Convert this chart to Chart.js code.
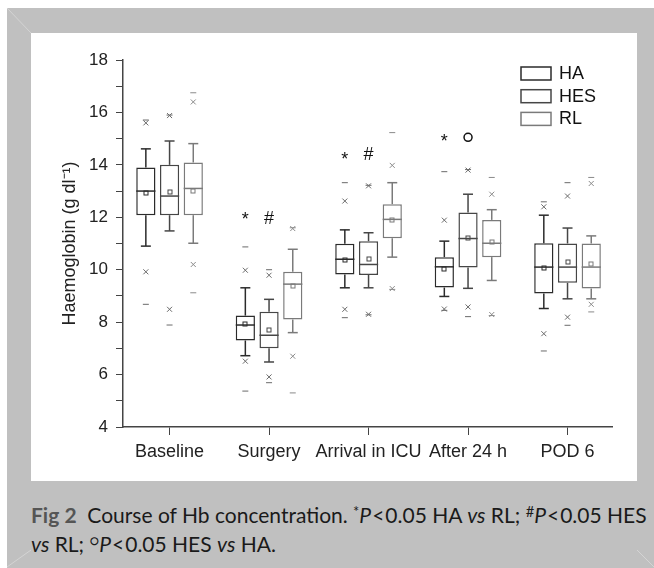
<!DOCTYPE html>
<html>
<head>
<meta charset="utf-8">
<script src="https://cdn.jsdelivr.net/npm/chart.js@4.4.0/dist/chart.umd.min.js"></script>
<style>
  body { margin: 0; width: 654px; height: 568px; position: relative; background: #fff; overflow: hidden; }
  #frame { position: absolute; left: 7px; top: 8px; width: 647px; height: 560px; background: #c0c0c0; }
  #bevel { position: absolute; left: 0; top: 0; }
  #panel { position: absolute; left: 31px; top: 33px; width: 606px; height: 448px; background: #fff; }
  #caption { position: absolute; left: 31px; top: 500px; font-family: Lato, "Open Sans", sans-serif; font-size: 21px;
             line-height: 29px; color: #1a1a1a; white-space: nowrap; }
  #caption b { color: #555; }
  #caption sup { font-size: 0.7em; vertical-align: 0.4em; line-height: 0; }
  #caption .lt { margin: 0 1px; }
</style>
</head>
<body>
<div id="frame"></div>
<svg id="bevel" width="654" height="568">
  <line x1="7" y1="8" x2="31" y2="33" stroke="#d4d4d4" stroke-width="1"/>
  <line x1="7" y1="567" x2="31" y2="550" stroke="#d4d4d4" stroke-width="1"/>
  <line x1="637" y1="550" x2="654" y2="567" stroke="#d4d4d4" stroke-width="1"/>
</svg>
<div id="panel"><canvas id="hbChart" width="606" height="448"></canvas></div>
<div id="caption"><b>Fig 2</b>&nbsp; Course of Hb concentration. <sup>*</sup><i>P</i><span class="lt">&lt;</span>0.05 HA <i>vs</i> RL; <sup>#</sup><i>P</i><span class="lt">&lt;</span>0.05 HES<br><i>vs</i> RL; <sup>○</sup><i>P</i><span class="lt">&lt;</span>0.05 HES <i>vs</i> HA.</div>
<script>
const categories = ['Baseline', 'Surgery', 'Arrival in ICU', 'After 24 h', 'POD 6'];
const seriesNames = ['HA', 'HES', 'RL'];
const seriesColors = ['#2b2b2b', '#464646', '#7a7a7a'];
const markColors = ['#6a6a6a', '#6a6a6a', '#8a8a8a'];
const yLabels = [4, 6, 8, 10, 12, 14, 16, 18];

// one row per time point: [min, 1%, whisker low, Q1, median, mean, Q3, whisker high, 99%, max]
const haStats = [
  [8.68, 9.92, 10.90, 12.08, 13.00, 12.91, 13.90, 14.61, 15.60, 15.71],
  [5.37, 6.51, 6.72, 7.30, 7.89, 7.94, 8.25, 9.31, 9.98, 10.87],
  [8.17, 8.49, 9.31, 9.82, 10.40, 10.38, 10.99, 11.52, 12.62, 13.32],
  [8.45, 8.50, 8.98, 9.32, 10.11, 10.02, 10.48, 11.09, 11.89, 13.74],
  [6.90, 7.56, 8.52, 9.09, 10.10, 10.08, 11.01, 12.08, 12.40, 12.59]
];
const hesStats = [
  [7.89, 8.49, 11.48, 12.08, 12.81, 12.97, 14.00, 14.91, 15.88, 15.90],
  [5.69, 5.91, 6.48, 7.00, 7.50, 7.69, 8.40, 8.87, 9.79, 10.00],
  [8.28, 8.30, 9.31, 9.80, 10.20, 10.40, 11.09, 11.41, 13.20, 13.22],
  [8.21, 8.58, 9.29, 10.08, 11.19, 11.20, 12.18, 12.88, 13.80, 13.82],
  [7.88, 8.19, 8.89, 9.50, 10.10, 10.29, 11.00, 11.59, 12.81, 13.32]
];
const rlStats = [
  [9.12, 10.20, 11.01, 12.08, 13.10, 13.00, 14.09, 14.81, 16.40, 16.75],
  [5.30, 6.70, 7.60, 8.10, 9.45, 9.38, 9.92, 10.78, 11.57, 11.60],
  [9.25, 9.28, 10.48, 11.20, 11.92, 11.90, 12.50, 13.32, 13.98, 15.23],
  [8.25, 8.29, 9.59, 10.48, 11.01, 11.04, 11.90, 12.29, 12.88, 13.52],
  [8.39, 8.68, 8.89, 9.28, 10.10, 10.21, 11.00, 11.29, 13.29, 13.52]
];
const allStats = [haStats, hesStats, rlStats];

// significance symbols above the boxes
const markCategory = [1, 1, 2, 2, 3, 3];
const markSeries = [0, 1, 0, 1, 0, 1];
const markValue = [12.04, 11.95, 14.35, 14.37, 15.03, 15.05];
const markSymbol = ['*', '#', '*', '#', '*', 'O'];

const FONT = 'Liberation Sans';

function line(ctx, x1, y1, x2, y2) {
  ctx.beginPath();
  ctx.moveTo(x1, y1);
  ctx.lineTo(x2, y2);
  ctx.stroke();
}

// whiskers, medians, means, percentiles, min/max, symbols and legend
const boxExtras = {
  id: 'boxExtras',
  afterDatasetsDraw(chart) {
    const ctx = chart.ctx;
    const y = chart.scales.y;
    ctx.save();
    chart.data.datasets.forEach((ds, di) => {
      const meta = chart.getDatasetMeta(di);
      meta.data.forEach((bar, ci) => {
        const r = allStats[di][ci];
        const x = bar.x;
        const half = bar.width / 2;
        const cap = half * 0.52;
        ctx.strokeStyle = seriesColors[di];
        ctx.lineWidth = 1.5;
        line(ctx, x, y.getPixelForValue(r[3]), x, y.getPixelForValue(r[2]));
        line(ctx, x, y.getPixelForValue(r[6]), x, y.getPixelForValue(r[7]));
        line(ctx, x - cap, y.getPixelForValue(r[2]), x + cap, y.getPixelForValue(r[2]));
        line(ctx, x - cap, y.getPixelForValue(r[7]), x + cap, y.getPixelForValue(r[7]));
        line(ctx, x - half, y.getPixelForValue(r[4]), x + half, y.getPixelForValue(r[4]));
        // mean
        ctx.lineWidth = 1;
        const my = y.getPixelForValue(r[5]);
        ctx.strokeRect(Math.round(x) - 2, Math.round(my) - 2, 4, 4);
        // 1% / 99% crosses
        ctx.strokeStyle = markColors[di];
        [r[1], r[8]].forEach(v => {
          const py = y.getPixelForValue(v);
          line(ctx, x - 2.5, py - 2.5, x + 2.5, py + 2.5);
          line(ctx, x - 2.5, py + 2.5, x + 2.5, py - 2.5);
        });
        // min / max dashes
        [r[0], r[9]].forEach(v => {
          const py = y.getPixelForValue(v);
          line(ctx, x - 3, py, x + 3, py);
        });
      });
    });

    ctx.fillStyle = '#111';
    ctx.strokeStyle = '#111';
    ctx.textAlign = 'center';
    ctx.textBaseline = 'middle';
    ctx.font = '18px ' + FONT;
    markSymbol.forEach((s, i) => {
      const bar = chart.getDatasetMeta(markSeries[i]).data[markCategory[i]];
      const py = y.getPixelForValue(markValue[i]);
      if (s === 'O') {
        ctx.lineWidth = 1.5;
        ctx.beginPath();
        ctx.arc(bar.x, py, 4, 0, Math.PI * 2);
        ctx.stroke();
      } else if (s === '*') {
        ctx.fillText(s, bar.x, py + 4);
      } else {
        ctx.fillText(s, bar.x, py);
      }
    });

    // legend
    const lx = chart.chartArea.right - 91;
    const ly = chart.chartArea.top + 7;
    ctx.textAlign = 'left';
    ctx.fillStyle = '#111';
    seriesNames.forEach((name, i) => {
      const ry = ly + i * 22.7;
      ctx.strokeStyle = seriesColors[i];
      ctx.lineWidth = 1.5;
      ctx.strokeRect(lx, ry, 30, 13);
      ctx.fillText(name, lx + 38, ry + 7);
    });
    ctx.restore();
  }
};

new Chart(document.getElementById('hbChart'), {
  type: 'bar',
  data: {
    datasets: allStats.map((rows, i) => ({
      label: seriesNames[i],
      data: rows.map((r, ci) => ({ x: ci + 1, y: [r[3], r[6]] })),
      backgroundColor: '#fff',
      borderColor: seriesColors[i],
      borderWidth: 1.5,
      borderSkipped: false,
      categoryPercentage: 0.715,
      barPercentage: 0.81
    }))
  },
  options: {
    responsive: false,
    animation: false,
    layout: { padding: { left: 28, top: 27, right: 25, bottom: 0 } },
    plugins: { legend: { display: false }, tooltip: { enabled: false } },
    scales: {
      x: {
        type: 'linear',
        min: 0.532,
        max: 5.447,
        offset: false,
        afterBuildTicks: s => { s.ticks = categories.map((c, i) => ({ value: i + 1 })); },
        afterFit: s => { s.height = 54; },
        ticks: {
          callback: v => categories[v - 1],
          autoSkip: false,
          maxRotation: 0,
          padding: 6,
          color: '#222',
          font: { family: FONT, size: 18 }
        },
        grid: { drawOnChartArea: false, tickLength: 8, color: '#444', offset: false },
        border: { color: '#444', width: 1.5 }
      },
      y: {
        min: 4,
        max: 18,
        afterFit: s => { s.width = 64; },
        ticks: {
          stepSize: 1,
          autoSkip: false,
          callback: v => (yLabels.includes(v) ? v : ''),
          padding: 8,
          color: '#222',
          font: { family: FONT, size: 17 }
        },
        grid: { drawOnChartArea: false, tickLength: 7, color: '#444' },
        border: { color: '#444', width: 1.5 },
        title: {
          display: true,
          text: 'Haemoglobin (g dl⁻¹)',
          padding: 0,
          color: '#222',
          font: { family: FONT, size: 18 }
        }
      }
    }
  },
  plugins: [boxExtras]
});
</script>
</body>
</html>
